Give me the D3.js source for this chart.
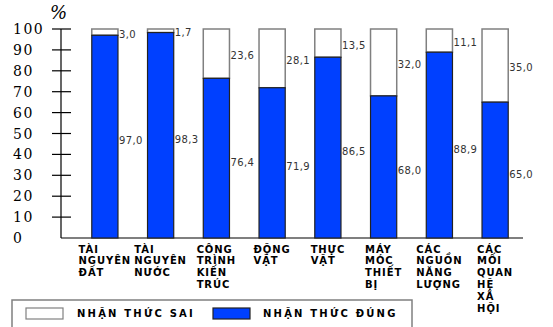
<!DOCTYPE html>
<html>
<head>
<meta charset="utf-8">
<script src="https://cdn.jsdelivr.net/npm/d3@7"></script>
<style>
  html, body { margin: 0; padding: 0; background: #fff; }
  svg { display: block; }
</style>
</head>
<body>
<svg id="chart" width="553" height="327"></svg>
<script>
// Survey results: share of correct vs. wrong awareness by topic (%)
const categories = [
  ["TÀI", "NGUYÊN", "ĐẤT"],
  ["TÀI", "NGUYÊN", "NƯỚC"],
  ["CÔNG", "TRÌNH", "KIẾN", "TRÚC"],
  ["ĐỘNG", "VẬT"],
  ["THỰC", "VẬT"],
  ["MÁY", "MÓC", "THIẾT", "BỊ"],
  ["CÁC", "NGUỒN", "NĂNG", "LƯỢNG"],
  ["CÁC", "MỐI", "QUAN", "HỆ", "XÃ", "HỘI"]
];
const correct = [97.0, 98.3, 76.4, 71.9, 86.5, 68.0, 88.9, 65.0];
const wrong   = [3.0, 1.7, 23.6, 28.1, 13.5, 32.0, 11.1, 35.0];
const yTicks  = [0, 10, 20, 30, 40, 50, 60, 70, 80, 90, 100];
const seriesNames = ["NHẬN THỨC SAI", "NHẬN THỨC ĐÚNG"];

const BLUE = "#0040ff";
const fmt = v => v.toFixed(1).replace(".", ",");

const svg = d3.select("#chart");

const y = d3.scaleLinear().domain([0, 100]).range([238, 29]);
const x = d3.scaleBand()
  .domain(d3.range(categories.length))
  .range([77, 523])
  .paddingInner(0.53)
  .paddingOuter(0.265);

// y axis: ticks crossing the axis line, labels left-aligned at the margin
const axisX = 61;
svg.append("line")
  .attr("x1", axisX).attr("x2", axisX)
  .attr("y1", y(100)).attr("y2", y(0))
  .attr("stroke", "#000").attr("stroke-width", 1.2);
svg.append("line")
  .attr("x1", axisX).attr("x2", 523)
  .attr("y1", y(0)).attr("y2", y(0))
  .attr("stroke", "#000").attr("stroke-width", 1.2);

svg.selectAll(".tick")
  .data(yTicks.filter(d => d > 0))
  .enter().append("line")
  .attr("x1", axisX - 9).attr("x2", axisX + 10)
  .attr("y1", d => y(d)).attr("y2", d => y(d))
  .attr("stroke", "#000").attr("stroke-width", 1.2);

svg.selectAll(".ytl")
  .data(yTicks)
  .enter().append("text")
  .attr("x", 13)
  .attr("y", d => y(d))
  .attr("dy", "0.36em")
  .attr("font-family", "DejaVu Serif")
  .attr("font-size", 14)
  .attr("letter-spacing", 1.5)
  .attr("fill", "#000")
  .text(d => d);

svg.append("text")
  .attr("x", 50).attr("y", 19)
  .attr("font-family", "DejaVu Serif")
  .attr("font-style", "italic")
  .attr("font-size", 18)
  .attr("fill", "#000")
  .text("%");

// stacked bars
const bars = svg.append("g");
categories.forEach((c, i) => {
  const bx = x(i), bw = x.bandwidth();
  // wrong share (top, white)
  bars.append("rect")
    .attr("x", bx).attr("width", bw)
    .attr("y", y(correct[i] + wrong[i])).attr("height", y(correct[i]) - y(correct[i] + wrong[i]))
    .attr("fill", "#fff").attr("stroke", "#808080").attr("stroke-width", 1.5);
  // correct share (bottom, blue)
  bars.append("rect")
    .attr("x", bx).attr("width", bw)
    .attr("y", y(correct[i])).attr("height", y(0) - y(correct[i]))
    .attr("fill", BLUE).attr("stroke", "#222").attr("stroke-width", 1.2);

  // value labels to the right of each segment
  bars.append("text")
    .attr("x", bx + bw + 1)
    .attr("y", (y(correct[i] + wrong[i]) + y(correct[i])) / 2 + 2)
    .attr("dy", "0.35em")
    .attr("font-family", "DejaVu Sans").attr("font-size", 10)
    .attr("letter-spacing", 0.4)
    .attr("fill", "#333")
    .text(fmt(wrong[i]));
  bars.append("text")
    .attr("x", bx + bw + 1)
    .attr("y", (y(correct[i]) + y(0)) / 2 + 4)
    .attr("dy", "0.35em")
    .attr("font-family", "DejaVu Sans").attr("font-size", 10)
    .attr("letter-spacing", 0.4)
    .attr("fill", "#333")
    .text(fmt(correct[i]));
});

// multi-line category labels, block centred under each bar, lines left-aligned
categories.forEach((lines, i) => {
  const g = svg.append("g");
  const t = g.append("text")
    .attr("font-family", "DejaVu Sans").attr("font-weight", "bold")
    .attr("font-size", 10).attr("letter-spacing", 0.9)
    .attr("fill", "#000");
  lines.forEach((ln, k) => {
    t.append("tspan").attr("x", 0).attr("y", 252.5 + k * 11.8).text(ln);
  });
  const w = t.node().getBBox().width;
  const cx = x(i) + x.bandwidth() / 2;
  g.attr("transform", `translate(${cx - w / 2},0)`);
});

// legend
const lg = svg.append("g");
lg.append("rect")
  .attr("x", 12).attr("y", 300).attr("width", 400).attr("height", 40)
  .attr("fill", "#fff").attr("stroke", "#808080").attr("stroke-width", 1.5);
const swatches = [
  { x: 26, fill: "#fff", stroke: "#808080", tx: 77 },
  { x: 213, fill: BLUE, stroke: "#222", tx: 263 }
];
swatches.forEach((s, k) => {
  lg.append("rect")
    .attr("x", s.x).attr("y", 308).attr("width", 37).attr("height", 11)
    .attr("fill", s.fill).attr("stroke", s.stroke).attr("stroke-width", 1.2);
  lg.append("text")
    .attr("x", s.tx).attr("y", 313.5).attr("dy", "0.36em")
    .attr("font-family", "DejaVu Sans").attr("font-weight", "bold")
    .attr("font-size", 10).attr("letter-spacing", 2.2)
    .attr("fill", "#000")
    .text(seriesNames[k]);
});
</script>
</body>
</html>
